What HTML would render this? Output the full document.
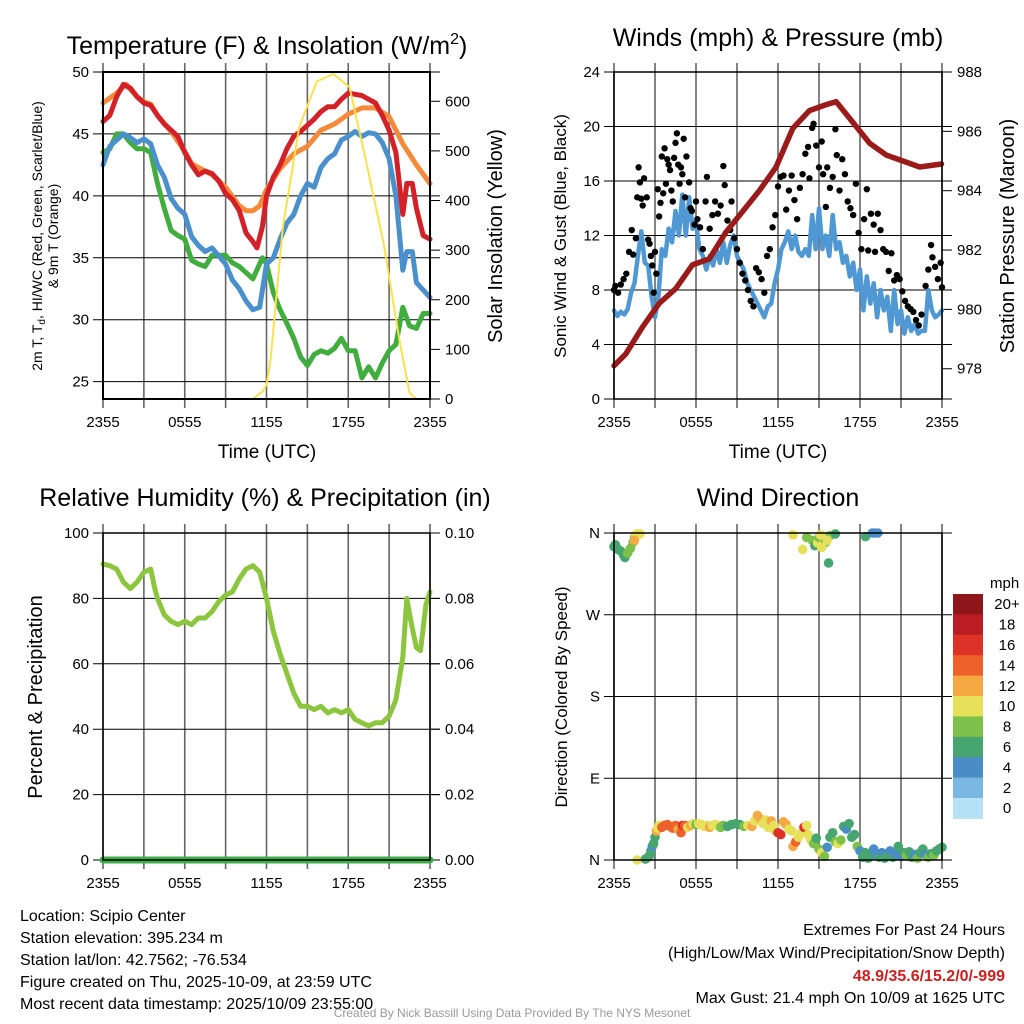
<!DOCTYPE html>
<html><head><meta charset="utf-8"><style>
html,body{margin:0;padding:0;background:#fff;}
svg{display:block;font-family:"Liberation Sans",Arial,sans-serif;}
</style></head><body>
<svg id="c" width="1024" height="1024" viewBox="0 0 1024 1024" xmlns="http://www.w3.org/2000/svg">
<rect width="1024" height="1024" fill="#fff"/>
<g id="g1"></g>
<g id="g2"></g>
<g id="g3"></g>
<g id="g4"></g>
<g font-size="25" text-anchor="middle" fill="#000">
<text x="267" y="54">Temperature (F) &amp; Insolation (W/m<tspan dy="-10" font-size="16">2</tspan><tspan dy="10">)</tspan></text>
<text x="778" y="46">Winds (mph) &amp; Pressure (mb)</text>
<text x="265" y="506">Relative Humidity (%) &amp; Precipitation (in)</text>
<text x="778" y="506">Wind Direction</text>
</g>
<g fill="#000" text-anchor="middle">
<text x="267" y="458" font-size="19">Time (UTC)</text>
<text x="778" y="458" font-size="19">Time (UTC)</text>
<text transform="translate(42,236) rotate(-90)" font-size="14">2m T, T<tspan font-size="10" dy="3">d</tspan><tspan dy="-3">, HI/WC (Red, Green, Scarlet/Blue)</tspan></text>
<text transform="translate(58,236) rotate(-90)" font-size="14">&amp; 9m T (Orange)</text>
<text transform="translate(502,236) rotate(-90)" font-size="20">Solar Insolation (Yellow)</text>
<text transform="translate(566,236) rotate(-90)" font-size="17">Sonic Wind &amp; Gust (Blue, Black)</text>
<text transform="translate(1014,236) rotate(-90)" font-size="20">Station Pressure (Maroon)</text>
<text transform="translate(42,697) rotate(-90)" font-size="20">Percent &amp; Precipitation</text>
<text transform="translate(567,697) rotate(-90)" font-size="17">Direction (Colored By Speed)</text>
</g>
<g font-size="16" fill="#000">
<text x="20" y="921">Location: Scipio Center</text>
<text x="20" y="943">Station elevation: 395.234 m</text>
<text x="20" y="965">Station lat/lon: 42.7562; -76.534</text>
<text x="20" y="987">Figure created on Thu, 2025-10-09, at 23:59 UTC</text>
<text x="20" y="1009">Most recent data timestamp: 2025/10/09 23:55:00</text>
</g>
<g font-size="16" fill="#000" text-anchor="end">
<text x="1005" y="935">Extremes For Past 24 Hours</text>
<text x="1005" y="958">(High/Low/Max Wind/Precipitation/Snow Depth)</text>
<text x="1005" y="981" fill="#cc1f1f" font-weight="bold">48.9/35.6/15.2/0/-999</text>
<text x="1005" y="1003">Max Gust: 21.4 mph On 10/09 at 1625 UTC</text>
</g>
<text x="512" y="1017" font-size="12" fill="#999" text-anchor="middle">Created By Nick Bassill Using Data Provided By The NYS Mesonet</text>
</svg>
<script>
// ---------- data ----------
const timeTickLabels = ["2355","0555","1155","1755","2355"];
const tempTicks = [25,30,35,40,45,50];
const solarTicks = [0,100,200,300,400,500,600];
const redHours = [0,0.5,1,1.5,2,2.5,3,3.5,4,4.5,5,5.5,6,6.5,7,7.5,8,8.5,9,9.5,10,10.5,11,11.3,11.7,12,12.5,13,13.5,14,14.5,15,15.5,16,16.5,17,17.5,18,18.5,19,19.5,20,20.5,21,21.5,22,22.3,22.7,23,23.5,24];
const redTemp = [46,46.5,48,49,48.7,48,47.5,47.3,46.5,45.8,45.3,44.8,43.5,42.5,41.7,42,41.8,41.2,40.2,39.7,38.8,37,36.3,35.8,37.5,40,41.5,42.5,43.8,44.8,45.2,45.7,46.2,46.8,47.2,47.2,47.8,48.3,48.2,48.1,47.8,47.5,46.5,45.3,43.5,38.5,41,41,39,36.8,36.5];
const orangeHours = [0,1,1.7,2.5,3,3.5,4,5,6,6.5,7,8,9,10,10.5,11,11.5,12,13,14,15,16,17,18,19,20,21,22,23,24];
const orangeTemp = [47.5,48.3,49,48,47.6,47.4,46.5,45.2,43.6,42.6,42.3,41.7,40.7,39.2,38.8,38.8,39.2,40.5,42.2,43.4,44,45.3,45.8,46.6,47.1,47.1,46.4,44.2,42.5,41];
const blueHours = [0,0.5,1,1.5,2,2.5,3,3.5,4,4.5,5,5.5,6,6.5,7,7.5,8,9,9.5,10,10.5,11,11.5,12,12.5,13,13.5,14,14.5,15,15.5,16,16.5,17,17.5,18,18.5,19,19.5,20,20.5,21,21.5,22,22.3,22.7,23,24];
const blueTemp = [42.5,44,44.5,45,44.7,44.3,44.6,44.2,42.5,41.5,39.8,39,38.5,36.7,36,35.5,35.8,34.5,33.2,32.5,31.5,30.8,31,34.5,35,36.5,37.8,38.5,40,41,40.7,42.3,43,43.4,44.5,44.8,45.2,44.8,45.1,45,44.3,43,40,34,35.5,35.5,33,31.8];
const greenHours = [0,0.5,1,1.5,2,2.5,3,3.5,4,4.5,5,5.5,6,6.5,7,7.5,8,9,9.5,10,10.5,11,11.7,12,12.5,13,13.5,14,14.5,15,15.5,16,16.5,17,17.5,18,18.5,19,19.5,20,20.5,21,21.5,22,22.5,23,23.5,24];
const greenTemp = [43.5,43.8,45,45,44.3,43.8,43.8,43.5,41,39,37.2,36.8,36.5,34.8,34.5,34.3,35.2,35.2,34.6,34.3,33.8,33.3,35,34.5,32.2,30.8,29.7,28.5,27,26.3,27.2,27.5,27.3,27.7,28.5,27.5,27.5,25.3,26.2,25.3,26.5,27.5,28,31,29.5,29.3,30.5,30.5];
const solarHours = [0,11,11.7,12,12.3,13.2,14.4,15.7,16.9,18.1,19.3,20.6,21.8,22.5,23,24];
const solarVals = [0,0,15,28,80,347,548,640,655,628,480,313,112,12,0,0];

const windTicks = [0,4,8,12,16,20,24];
const presTicks = [978,980,982,984,986,988];
const windSpeed = [6.5,6.1,6.4,6.2,6.6,7.8,8.5,10.5,12.3,10,9.8,7.5,6,7.5,11,10.5,12.5,11.5,13.8,12,15,12,14.8,12.5,13,11,10.5,9.5,10.5,9.8,11,10,11.5,10,11.3,12,10.5,10,9.5,8.5,8,7.5,7,6.5,6,6.8,7,8.5,9.5,11,11.5,12.3,11,12,10.8,10.5,11,10.5,13.5,11,14,11,12,10.5,13.5,11,11.5,10,10.5,9,10,8,9.5,6.5,9,7,8.5,6,8,6.5,7.5,5,8,5.5,6.5,4.8,6,5,5.5,4.8,5,5,8,6.5,6,6.2,6.5];
const gustHours = [0,0.1,0.3,0.5,0.7,0.9,1.1,1.3,1.4,1.6,1.7,1.8,1.9,2,2.1,2.2,2.4,2.5,2.6,2.7,2.8,2.9,3,3.1,3.2,3.3,3.4,3.5,3.6,3.7,3.8,3.9,4,4.1,4.2,4.3,4.4,4.5,4.6,4.7,4.8,4.9,5,5.1,5.2,5.3,5.5,5.6,5.7,5.9,6,6.1,6.3,6.5,6.7,6.8,7,7.2,7.4,7.6,7.8,8,8.1,8.3,8.5,8.6,8.8,9,9.2,9.4,9.6,9.8,10,10.2,10.4,10.6,10.8,11,11.2,11.4,11.6,11.8,12,12.2,12.4,12.6,12.8,13,13.2,13.4,13.6,13.8,14,14.2,14.3,14.5,14.6,14.8,15,15.2,15.3,15.5,15.6,15.8,16,16.2,16.3,16.5,16.7,16.9,17.1,17.3,17.5,17.7,17.9,18.1,18.3,18.5,18.6,18.8,19,19.1,19.3,19.5,19.7,19.9,20.1,20.3,20.5,20.7,20.9,21.1,21.3,21.5,21.7,21.9,22.1,22.3,22.5,22.8,23,23.2,23.3,23.5,23.7,23.9,24];
const gustVals = [8,8.3,7.8,8.4,8.8,9.2,10.8,12.4,10.6,11.8,14.8,17,15.9,14.7,14.2,16.2,14.8,11.7,11.4,10.5,9.8,7.8,10.8,9.2,15.4,13.4,14.4,17.8,15.1,18.4,15.8,17.6,17.2,16.8,15.3,14.5,17.7,18.8,19.5,17.2,15.8,17,16.5,19.1,14.8,17.8,15.9,14,13.8,12.8,14.5,13.2,12.6,11,14.5,16.3,12.5,13.5,14.5,13.6,14.2,17.1,15.7,13.1,12.4,14.5,11.8,11,10,9.2,8.7,8,7.2,6.8,9.6,9.3,8.8,7.8,10.5,11,12.6,13.5,15.6,16.3,16.4,13.9,15.3,16.4,14.6,13.2,15.5,16.5,18,18.5,16.2,19.9,20.2,18.6,17,18.9,16.5,14.1,17,15.5,16.3,19.8,17.9,15.3,17.6,16.5,14.5,14,13.5,15.8,12.2,11,13.2,15.4,10.9,13.6,12.8,10.8,13.6,12.4,11,10.8,9.4,10.7,8.7,9.1,8.8,7.9,7.2,6.8,6.6,6.4,5.8,5.4,6.2,8.3,9.5,11.3,10.4,9.7,8.8,10,8.2];
const presHours = [0,0.86,2.08,3.3,4.52,5.74,6.97,8.19,9.41,10.63,11.86,13.08,14.3,15.53,16.26,17.48,18.7,19.93,21.15,22.37,23.96];
const presVals = [978.1,978.5,979.4,980.2,980.7,981.5,981.7,982.6,983.3,984.0,984.8,986.1,986.7,986.9,987.0,986.3,985.6,985.2,985.0,984.8,984.9];

const rhTicks = [0,20,40,60,80,100];
const precipTickLabels = ["0.00","0.02","0.04","0.06","0.08","0.10"];
const rhHours = [0,0.5,1,1.5,2,2.5,3,3.5,3.8,4,4.5,5,5.5,6,6.5,7,7.5,8,8.5,9,9.5,10,10.5,11,11.5,12,12.5,13,13.5,14,14.5,15,15.5,16,16.5,17,17.5,18,18.5,19,19.5,20,20.5,21,21.5,22,22.3,22.6,23,23.3,23.7,24];
const rhVals = [90.5,90,89,85,83,85,88,89,83,80,75,73,72,73,72,74,74,76,79,81,82,86,89,90,88,80,70,63,57,51,47,47,46,47,45,46,45,46,43,42,41,42,42,44,49,62,80,73,65,64,78,82];
const precipHours = [0,24];
const precipVals = [0,0];

const dirTickLabels = ["N","E","S","W","N"];
const dirHours = [0,0.1,0.3,0.5,0.7,0.8,1,1.2,1.4,1.5,1.6,1.7,1.9,1.5,1.7,2.3,2.5,2.6,2.7,2.8,2.9,3,3.1,3.2,3.3,3.5,3.7,3.9,4.1,4.3,4.5,4.7,4.9,5,5.2,5.4,5.6,5.8,6,6.2,6.4,6.6,6.8,7,7.2,7.4,7.6,7.8,8,8.3,8.6,8.9,9.2,9.5,9.8,10.1,10.3,10.5,10.7,10.9,11.1,11.3,11.5,11.7,11.8,12,12.2,12.4,12.6,12.8,13,13.1,13.3,13.5,13.7,13.9,14.1,14.2,14.4,14.6,14.8,15,15.2,15.4,15.6,15.8,16,16.2,16.4,16.6,16.8,17,17.2,17.4,17.6,17.8,18,18.2,18.4,18.6,18.8,19,19.2,19.4,19.6,19.8,20,20.2,20.4,20.6,20.8,21,21.2,21.4,21.6,21.8,22,22.2,22.4,22.6,22.8,23,23.2,23.4,23.6,23.8,24,13.1,13.8,14.1,14.5,14.7,14.9,15,15.1,15.3,15.5,15.7,15.8,16.2,18.4,18.9,19.1,19.3,15.2,15.6];
const dirDeg = [345,347,342,340,336,333,338,343,350,355,358,359,359,352,0,1,3,5,10,15,18,25,32,35,38,36,38,39,37,35,38,34,30,38,38,36,38,40,39,40,39,37,38,36,38,39,38,36,38,37,39,40,39,37,38,37,43,49,45,40,44,36,43,38,32,30,28,42,39,34,32,15,20,25,30,36,38,28,22,18,24,12,8,4,14,25,30,20,18,22,37,34,40,25,28,15,10,3,8,2,5,12,6,3,8,2,5,10,3,7,15,4,8,5,9,3,6,2,8,12,6,3,7,5,10,12,14,358,342,355,352,346,349,355,358,347,350,327,357,359,356,360,360,360,344,352];
const dirSpeed = [7,7,7,7,7,7,8,9,8,9,10,10,11,12.5,10,7,7,6,6,5,7,6,12,10,11,15,15,14,15,14,15,13,15,16,14,11,12,10,9,10,10,11,10,13,11,10,10,9,8,7,7,6,6,9,10,12,10,12,12,11,10,10,12,10,10,16,16,13,12,11,10,12,14,10,10,16,11,10,11,9,7,9,10,8,5,7,6,8,10,8,6,5,7,7,6,8,5,6,7,6,6,5,4,6,4,6,7,5,6,5,6,4,7,8,6,7,4,8,6,7,5,8,6,8,6,7,6,10,10,8,8,6,10,8,10,10,9,6,9,6,6,4,4,4,11,11];
const speedBinLabels = ["20+","18","16","14","12","10","8","6","4","2","0"];
const speedBinColors = ["#8e1519","#bb1d24","#dc3228","#ef612b","#f6a843","#e7e05b","#7dc14a","#47a56f","#4a8dc6","#7bb8e1","#b5e1f6"];

// ---------- helpers ----------
const NS = "http://www.w3.org/2000/svg";
function el(parent, tag, attrs, text) {
  const e = document.createElementNS(NS, tag);
  for (const k in attrs) e.setAttribute(k, attrs[k]);
  if (text !== undefined) e.textContent = text;
  parent.appendChild(e);
  return e;
}
function makeX(L, R) { return h => L + (R - L) * h / 24; }
function makeY(T, B, vmin, vmax) { return v => B - (B - T) * (v - vmin) / (vmax - vmin); }
function pathOf(xs, ys, xf, yf) {
  return xs.map((h, i) => (i ? "L" : "M") + xf(h).toFixed(1) + "," + yf(ys[i]).toFixed(1)).join("");
}
function frame(g, L, R, T, B, xf) {
  for (let h = 0; h <= 24; h += 3) {
    const ln = el(g, "line", {x1: xf(h), x2: xf(h), y1: T - 9, y2: B + 9, stroke: "#666", "stroke-width": 1.6});
    
    
  }
  for (let i = 0; i < timeTickLabels.length; i++) {
    const t = el(g, "text", {x: xf(i * 6), y: B + 28, "font-size": 15, "text-anchor": "middle"}, timeTickLabels[i]);
    
    
  }
}
function hgrid(g, L, R, y, label) {
  const ln = el(g, "line", {x1: L - 10, x2: R + 10, y1: y, y2: y, stroke: "#000", "stroke-width": 1});
  
  
  const t = el(g, "text", {x: L - 14, y: y + 5, "font-size": 15, "text-anchor": "end"}, label);
  
  
}
function rightTick(g, R, y, label) {
  const ln = el(g, "line", {x1: R, x2: R + 10, y1: y, y2: y, stroke: "#000", "stroke-width": 1});
  
  
  const t = el(g, "text", {x: R + 15, y: y + 5, "font-size": 15}, label);
  
  
}
function border(g, L, R, T, B, w) {
  const r = el(g, "rect", {x: L, y: T, width: R - L, height: B - T, fill: "none", stroke: "#000", "stroke-width": w});
  
  
}
function line(g, d, color, w, name) {
  const p = el(g, "path", {d: d, fill: "none", stroke: color, "stroke-width": w, "stroke-linejoin": "round", "stroke-linecap": "round"});
  
  
}

// ---------- panel 1 ----------
(function(){
  const g = document.getElementById("g1");
  const L = 103, R = 430, T = 72, B = 399;
  const xf = makeX(L, R);
  const yT = makeY(T, B, 23.6, 50);
  const yS = makeY(T, B, 0, 659);
  frame(g, L, R, T, B, xf);
  tempTicks.forEach(v => hgrid(g, L, R, yT(v), String(v)));
  solarTicks.forEach(v => rightTick(g, R, yS(v), String(v)));
  line(g, pathOf(greenHours, greenTemp, xf, yT), "#41ad3f", 5, "dewpoint-line");
  line(g, pathOf(blueHours, blueTemp, xf, yT), "#4a90cc", 5, "windchill-line");
  line(g, pathOf(orangeHours, orangeTemp, xf, yT), "#f58a3a", 5, "temp-9m-line");
  line(g, pathOf(redHours, redTemp, xf, yT), "#d42027", 5, "temp-2m-line");
  line(g, pathOf(solarHours, solarVals, xf, yS), "#fbe14b", 2, "solar-line");
  border(g, L, R, T, B, 2);
})();

// ---------- panel 2 ----------
(function(){
  const g = document.getElementById("g2");
  const L = 614, R = 942, T = 72, B = 399;
  const xf = makeX(L, R);
  const yW = makeY(T, B, 0, 24);
  const yP = makeY(T, B, 976.98, 988);
  frame(g, L, R, T, B, xf);
  windTicks.forEach(v => hgrid(g, L, R, yW(v), String(v)));
  presTicks.forEach(v => rightTick(g, R, yP(v), String(v)));
  const wh = windSpeed.map((v, i) => i * 0.25);
  line(g, pathOf(wh, windSpeed, xf, yW), "#4f98d3", 4.5, "sonic-wind-line");
  gustHours.forEach((h, i) => {
    const c = el(g, "circle", {cx: xf(h), cy: yW(gustVals[i]), r: 3.2, fill: "#000"});
    
    
  });
  line(g, pathOf(presHours, presVals, xf, yP), "#9b1b1b", 5.5, "pressure-line");
  border(g, L, R, T, B, 1.5);
})();

// ---------- panel 3 ----------
(function(){
  const g = document.getElementById("g3");
  const L = 103, R = 430, T = 533, B = 860;
  const xf = makeX(L, R);
  const yR = makeY(T, B, 0, 100);
  const yPr = makeY(T, B, 0, 0.10);
  frame(g, L, R, T, B, xf);
  rhTicks.forEach(v => hgrid(g, L, R, yR(v), String(v)));
  precipTickLabels.forEach((lab, i) => rightTick(g, R, yR(rhTicks[i]), lab));
  line(g, pathOf(rhHours, rhVals, xf, yR), "#8cc63f", 5, "rh-line");
  line(g, pathOf(precipHours, precipVals, xf, yPr), "#3fae49", 7, "precip-line");
  border(g, L, R, T, B, 1.5);
})();

// ---------- panel 4 ----------
(function(){
  const g = document.getElementById("g4");
  const L = 614, R = 942, T = 533, B = 860;
  const xf = makeX(L, R);
  const yD = makeY(T, B, 0, 360);
  frame(g, L, R, T, B, xf);
  dirTickLabels.forEach((lab, i) => hgrid(g, L, R, yD(i * 90), lab));
  function col(s) {
    let idx = 10 - Math.floor(s / 2);
    if (idx < 0) idx = 0;
    return speedBinColors[idx];
  }
  dirHours.forEach((h, i) => {
    const c = el(g, "circle", {cx: xf(h), cy: yD(dirDeg[i]), r: 4.8, fill: col(dirSpeed[i])});
    
    
  });
  border(g, L, R, T, B, 1.5);
  const cb = el(g, "g", {});
  
  
  const t0 = el(cb, "text", {x: 990, y: 588, "font-size": 15, "text-anchor": "start"}, "mph");
  
  
  const h = 20.4;
  speedBinColors.forEach((c, i) => {
    const r = el(cb, "rect", {x: 953, y: 594 + i * h, width: 30, height: h + 0.5, fill: c});
    
    
    const t = el(cb, "text", {x: 1007, y: 594 + i * h + h / 2 + 5, "font-size": 15, "text-anchor": "middle"}, speedBinLabels[i]);
    
    
  });
})();
</script>
</body></html>
